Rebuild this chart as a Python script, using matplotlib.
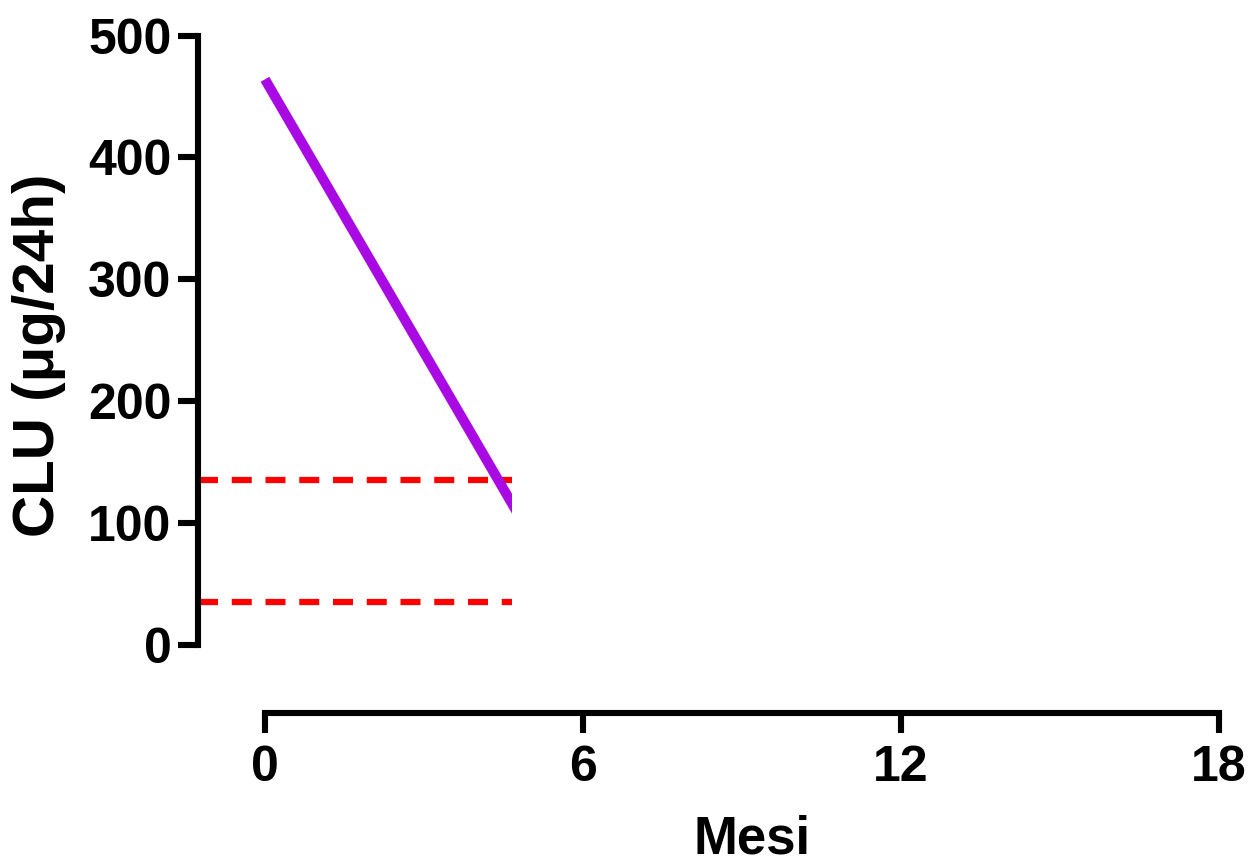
import matplotlib
matplotlib.use("Agg")
import matplotlib.pyplot as plt
from matplotlib.patches import Rectangle

# ---- data ----
months = [0.0, 4.75]          # x of CLU trend line (clipped at the plot edge)
clu = [464.0, 109.0]          # CLU values (µg/24h)
ref_upper = 135.0             # upper reference limit
ref_lower = 35.0              # lower reference limit
x_ticks = [0, 6, 12, 18]
y_ticks = [0, 100, 200, 300, 400, 500]
x_label = "Mesi"
y_label = "CLU (μg/24h)"

plt.rcParams['font.family'] = ['Liberation Sans', 'DejaVu Sans']
plt.rcParams['font.weight'] = 'bold'

fig = plt.figure(figsize=(12.51, 8.64), dpi=100)
ax = fig.add_axes([0.15827, 0.17477, 0.81615, 0.78414])

xmin, xmax = -1.264, 18.0
ymin, ymax = -56.2, 500.0
ax.set_xlim(xmin, xmax)
ax.set_ylim(ymin, ymax)

clip_x = 4.665
clip_rect = Rectangle((xmin, ymin), clip_x - xmin, ymax - ymin + 100,
                      transform=ax.transData, fill=False, visible=False)
ax.add_patch(clip_rect)

purple = '#A90AE3'
ln, = ax.plot(months, clu, color=purple, lw=7.2, solid_capstyle='butt', zorder=3)
ln.set_clip_path(clip_rect)

for yv in (ref_upper, ref_lower):
    h, = ax.plot([xmin, xmax], [yv, yv], color='#FF0000', lw=4.5,
                 linestyle=(0, (3.2, 2.2)), dash_capstyle='butt', zorder=2)
    h.set_clip_path(clip_rect)

for s in ('top', 'right'):
    ax.spines[s].set_visible(False)
for s in ('left', 'bottom'):
    ax.spines[s].set_linewidth(4.4)
    ax.spines[s].set_capstyle('projecting')
ax.spines['left'].set_bounds(0, 500)
ax.spines['bottom'].set_bounds(0, 18)

ax.set_xticks(x_ticks)
ax.set_yticks(y_ticks)
ax.tick_params(axis='both', length=14.2, width=4.4, labelsize=36, color='black')
ax.tick_params(axis='x', pad=9)
ax.tick_params(axis='y', pad=5)
for lab in ax.get_xticklabels() + ax.get_yticklabels():
    lab.set_fontweight('bold')

fig.text(752.5 / 1251, 1 - 853 / 864, x_label, ha='center', va='baseline',
         fontsize=38, fontweight='bold')
fig.text(12 / 1251, 1 - 355 / 864, y_label, ha='left', va='center',
         rotation=90, fontsize=42, fontweight='bold')

fig.savefig('out.png', dpi=100)
